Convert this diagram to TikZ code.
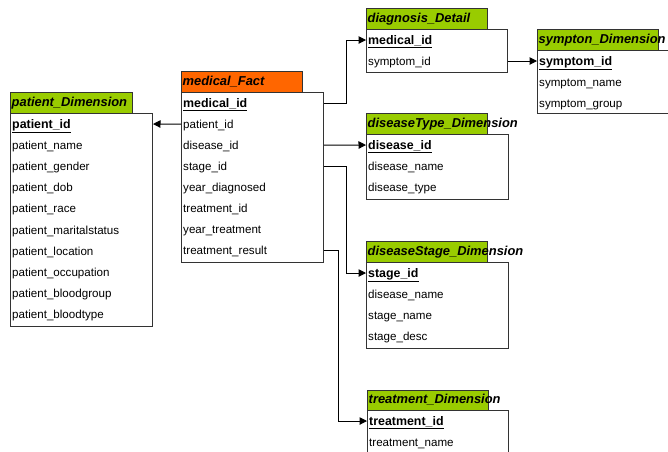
\documentclass[tikz,border=0pt]{standalone}
\usepackage{fontspec}
\setmainfont{Liberation Sans}
\usetikzlibrary{arrows.meta}
\definecolor{dimgreen}{HTML}{99CC00}
\definecolor{factorange}{HTML}{FF6600}
\definecolor{edge}{HTML}{333333}
\tikzset{
  hdrbox/.style={draw=edge, line width=0.9pt},
  bodybox/.style={draw=edge, line width=1pt, fill=white},
  title/.style={inner sep=0pt, anchor=west, text height=9pt, text depth=2pt,
    font=\fontsize{12.9}{14}\selectfont\bfseries\itshape},
  rowtxt/.style={inner sep=0pt, anchor=west, text height=9pt, text depth=1pt,
    font=\fontsize{11.6}{13}\selectfont},
  keytxt/.style={rowtxt, font=\fontsize{12.4}{14}\selectfont\bfseries},
  link/.style={draw=black, line width=1pt,
    -{Triangle[length=7.5pt,width=7.5pt]}},
}
% one table: id, left x, header top, header bottom, header right, body right, body bottom, fill, title
\newcommand\erdtable[9]{%
  \draw[hdrbox, fill=#8] (#2,#3) rectangle (#5,#4);
  \node[bodybox, minimum width=#6pt-#2pt, minimum height=#7pt-#4pt, inner sep=0pt,
        anchor=north west] (#1) at (#2,#4) {};
  \node[title] (#1-t) at (#2+1.5,#3/2+#4/2) {#9};
}
\begin{document}
\begin{tikzpicture}[x=1pt,y=-1pt]
\useasboundingbox (0,0) rectangle (668,451);
\clip (0,0) rectangle (668,451);

% patient dimension
\erdtable{pat}{10}{92}{113}{132}{152}{326}{dimgreen}{patient\_Dimension}
\node[keytxt] (pat-0) at (12,124) {\underline{patient\_id}};
\foreach \t [count=\i] in {patient\_name, patient\_gender, patient\_dob, patient\_race,
  patient\_maritalstatus, patient\_location, patient\_occupation,
  patient\_bloodgroup, patient\_bloodtype}
  \node[rowtxt] (pat-\i) at (12,124+21.2*\i) {\t};

% fact table
\erdtable{fact}{181}{71}{92}{302}{323}{262}{factorange}{medical\_Fact}
\node[keytxt] (fact-0) at (183,103) {\underline{medical\_id}};
\foreach \t [count=\i] in {patient\_id, disease\_id, stage\_id, year\_diagnosed,
  treatment\_id, year\_treatment, treatment\_result}
  \node[rowtxt] (fact-\i) at (183,103+21.1*\i) {\t};

% diagnosis detail
\erdtable{diag}{366}{8}{29}{487}{507}{72}{dimgreen}{diagnosis\_Detail}
\node[keytxt] (diag-0) at (368,40) {\underline{medical\_id}};
\node[rowtxt] (diag-1) at (368,61) {symptom\_id};

% symptom dimension
\erdtable{symp}{537}{29}{50}{658}{674}{113}{dimgreen}{sympton\_Dimension}
\node[keytxt] (symp-0) at (539,61) {\underline{symptom\_id}};
\node[rowtxt] (symp-1) at (539,82) {symptom\_name};
\node[rowtxt] (symp-2) at (539,103) {symptom\_group};

% disease type dimension
\erdtable{dtype}{366}{113}{134}{487}{508}{199}{dimgreen}{diseaseType\_Dimension}
\node[keytxt] (dtype-0) at (368,145) {\underline{disease\_id}};
\node[rowtxt] (dtype-1) at (368,166) {disease\_name};
\node[rowtxt] (dtype-2) at (368,187.5) {disease\_type};

% disease stage dimension
\erdtable{dstage}{366}{241}{262}{487}{508}{348}{dimgreen}{diseaseStage\_Dimension}
\node[keytxt] (dstage-0) at (368,273) {\underline{stage\_id}};
\node[rowtxt] (dstage-1) at (368,294) {disease\_name};
\node[rowtxt] (dstage-2) at (368,315) {stage\_name};
\node[rowtxt] (dstage-3) at (368,336) {stage\_desc};

% treatment dimension
\erdtable{treat}{367}{390}{410}{488}{508}{470}{dimgreen}{treatment\_Dimension}
\node[keytxt] (treat-0) at (369,421) {\underline{treatment\_id}};
\node[rowtxt] (treat-1) at (369,442) {treatment\_name};

% relationships
\draw[link] (fact-1.west -| fact.west) -- (pat-0.west -| pat.east);
\draw[link] (fact-0.west -| fact.east) -- ++(22,0) |- (diag-0.west -| diag.west);
\draw[link] (fact-2.west -| fact.east) -- (dtype-0.west -| dtype.west);
\draw[link] (fact-3.west -| fact.east) -- ++(22,0) |- (dstage-0.west -| dstage.west);
\draw[link] (fact-7.west -| fact.east) -- ++(14,0) |- (treat-0.west -| treat.west);
\draw[link] (diag-1.west -| diag.east) -- (symp-0.west -| symp.west);
\end{tikzpicture}
\end{document}
